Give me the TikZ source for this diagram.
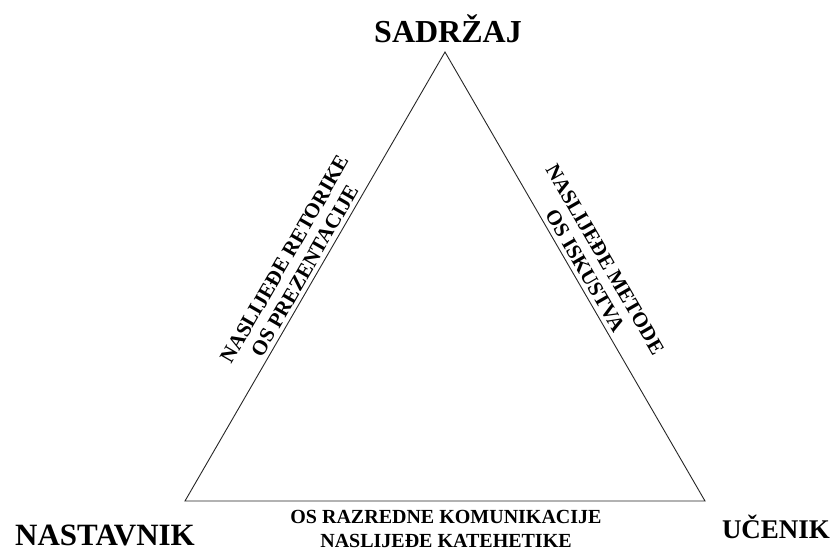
\documentclass[tikz,border=0pt]{standalone}
\usepackage{fontspec}
\setmainfont{Liberation Serif}
\begin{document}
\begin{tikzpicture}[x=1pt,y=-1pt,
  vertexlabel/.style={font=\bfseries, inner sep=0pt, anchor=base},
  sidelabel/.style={font=\bfseries\fontsize{21}{23}\selectfont, align=center, inner sep=0pt},
  edge/.style={draw=black!85, line width=0.9pt, line join=miter}]
\useasboundingbox (0,0) rectangle (833,551);
\coordinate (S) at (445,52);
\coordinate (N) at (185,501);
\coordinate (U) at (705,501);
\draw[edge] (S) -- (U) -- (N) -- cycle;
\node[vertexlabel, font=\bfseries\fontsize{32}{36}\selectfont] (sadrzaj) at (448,43) {SADRŽAJ};
\node[vertexlabel, font=\bfseries\fontsize{31}{35}\selectfont] (nastavnik) at (105,545) {NASTAVNIK};
\node[vertexlabel, font=\bfseries\fontsize{27}{31}\selectfont] (ucenik) at (776,538) {UČENIK};
\node[sidelabel, rotate=60] (left) at (295,265) {NASLIJEĐE RETORIKE\\OS PREZENTACIJE};
\node[sidelabel, rotate=-60] (right) at (595,265) {NASLIJEĐE METODE\\OS ISKUSTVA};
\node[sidelabel, font=\bfseries\fontsize{20}{24}\selectfont, anchor=north] (bottom) at (446,510) {OS RAZREDNE KOMUNIKACIJE\\NASLIJEĐE KATEHETIKE};
\end{tikzpicture}
\end{document}
